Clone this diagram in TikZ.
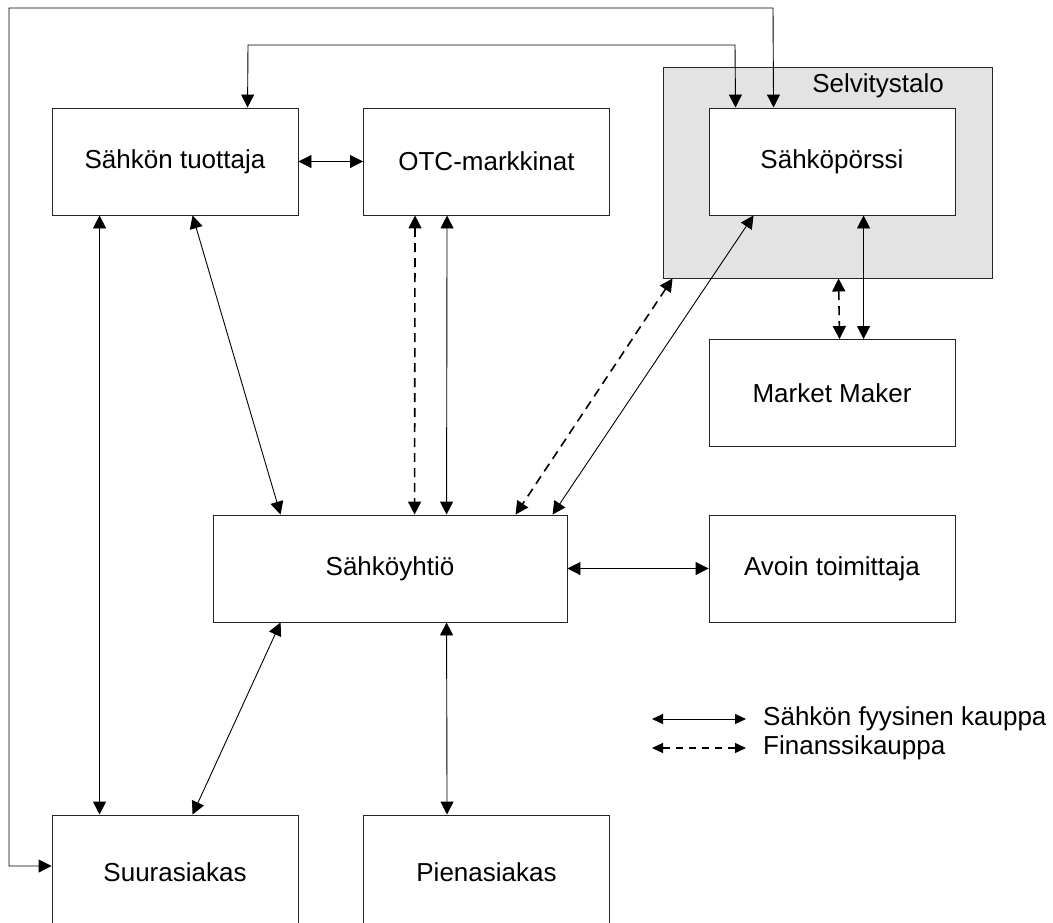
\documentclass[tikz,border=0pt]{standalone}
\usepackage{fontspec}
\setmainfont{Liberation Sans}
\usetikzlibrary{arrows.meta,calc}
\definecolor{selvgray}{HTML}{E3E3E3}
\tikzset{
  box/.style={draw=black!85, line width=0.9pt, fill=white, inner sep=0pt, minimum width=246pt, minimum height=107pt, font=\fontsize{26}{30}\selectfont},
  tip/.style={{Triangle[length=13pt,width=13pt]}-{Triangle[length=13pt,width=13pt]}},
  conn/.style={tip, line width=0.9pt},
  fin/.style={tip, line width=1.6pt, dash pattern=on 9pt off 6pt},
  legtip/.style={{Triangle[length=11pt,width=10pt]}-{Triangle[length=11pt,width=10pt]}},
  legtext/.style={anchor=west, inner sep=0pt, font=\fontsize{26}{30}\selectfont}
}
\begin{document}
\begin{tikzpicture}[x=1pt,y=-1pt]
\useasboundingbox (0,0) rectangle (1053,922);
\clip (0,0) rectangle (1053,922);
% Selvitystalo group
\node[draw=black!85, line width=0.9pt, fill=selvgray, minimum width=329pt, minimum height=211pt, inner sep=0pt] (selv) at (827.5,172.5) {};
\node[font=\fontsize{26}{30}\selectfont, inner sep=0pt] (selvlabel) at (878,86) {Selvitystalo};
% boxes
\node[box] (tuot) at (175,161.5) {Sähkön tuottaja};
\node[box] (otc) at (486.5,161.5) {OTC-markkinat};
\node[box] (porssi) at (832,161.5) {Sähköpörssi};
\node[box] (mm) at (832,393) {Market Maker};
\node[box, minimum width=354pt] (yhtio) at (390,568.5) {Sähköyhtiö};
\node[box] (avoin) at (832,568.5) {Avoin toimittaja};
\node[box, minimum height=114pt] (suur) at (175,872) {Suurasiakas};
\node[box, minimum height=114pt] (pien) at (486.5,872) {Pienasiakas};
% loops
\coordinate (l1) at (248,45);
\coordinate (l1r) at (735,45);
\draw[conn] ($(tuot.north west)+(196,0)$) -- (l1) -- (l1r) -- ($(porssi.north west)+(27,0)$);
\coordinate (l2a) at (9,866);
\coordinate (l2b) at (9,8);
\coordinate (l2c) at (773,8);
\draw[conn] (suur.west |- l2a) -- (l2a) -- (l2b) -- (l2c) -- ($(porssi.north west)+(65,0)$);
% connectors
\draw[conn] (tuot.east) -- (otc.west);
\draw[conn] ($(tuot.south west)+(48,0)$) -- ($(suur.north west)+(48,0)$);
\draw[conn] ($(tuot.south west)+(141,0)$) -- ($(yhtio.north west)+(68,0)$);
\draw[fin] ($(otc.south west)+(52,0)$) -- ($(yhtio.north west)+(202,0)$);
\draw[conn] ($(otc.south west)+(84,0)$) -- ($(yhtio.north west)+(234,0)$);
\draw[fin] ($(selv.south west)+(10,0)$) -- ($(yhtio.north west)+(303,0)$);
\draw[conn] ($(porssi.south west)+(45,0)$) -- ($(yhtio.north west)+(340,0)$);
\draw[conn] ($(porssi.south west)+(155,0)$) -- ($(mm.north west)+(155,0)$);
\draw[fin] ($(selv.south west)+(176,0)$) -- ($(mm.north west)+(131,0)$);
\draw[conn] (yhtio.east) -- (avoin.west);
\draw[conn] ($(yhtio.south west)+(68,0)$) -- ($(suur.north west)+(141,0)$);
\draw[conn] ($(yhtio.south west)+(234,0)$) -- ($(pien.north west)+(84,0)$);
% legend
\coordinate (la1) at (652,719);
\coordinate (lb1) at (746,719);
\coordinate (la2) at (652,748);
\coordinate (lb2) at (746,748);
\draw[legtip, line width=0.9pt] (la1) -- (lb1);
\draw[legtip, line width=1.2pt, dash pattern=on 7pt off 6pt] (la2) -- (lb2);
\node[legtext] (lt1) at (763,719) {Sähkön fyysinen kauppa};
\node[legtext] (lt2) at (763,748) {Finanssikauppa};
\end{tikzpicture}
\end{document}
